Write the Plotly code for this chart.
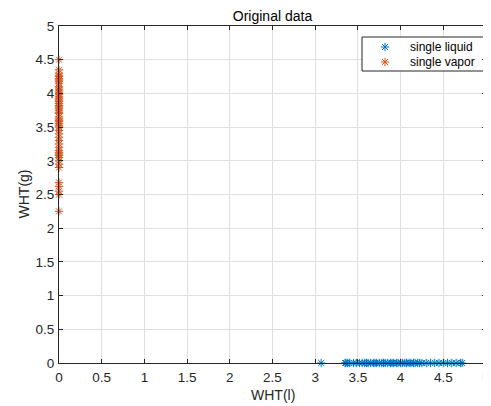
import plotly.graph_objects as go

# Data
liquid_x = [3.07, 3.35, 3.36, 3.38, 3.40, 3.45, 3.48, 3.52, 3.55, 3.58, 3.60, 3.62,
            3.65, 3.68, 3.70, 3.72, 3.75, 3.78, 3.80, 3.82, 3.85, 3.88, 3.90, 3.92,
            3.95, 3.97, 4.00, 4.02, 4.05, 4.07, 4.10, 4.12, 4.15, 4.17, 4.20, 4.22,
            4.25, 4.30, 4.35, 4.40, 4.45, 4.50, 4.55, 4.60, 4.65, 4.70, 4.72]
liquid_y = [0.0] * len(liquid_x)

vapor_y = [2.25, 2.50, 2.55, 2.62, 2.68, 2.90, 2.95, 3.00, 3.05, 3.08, 3.10, 3.12,
           3.15, 3.20, 3.25, 3.30, 3.35, 3.40, 3.45, 3.50, 3.52, 3.55, 3.58, 3.60,
           3.62, 3.65, 3.70, 3.72, 3.75, 3.78, 3.80, 3.82, 3.85, 3.88, 3.90, 3.92,
           3.95, 3.98, 4.00, 4.02, 4.05, 4.08, 4.10, 4.15, 4.18, 4.20, 4.22, 4.25,
           4.27, 4.30, 4.35, 4.50]
vapor_x = [0.0] * len(vapor_y)

tick_vals = [0, 0.5, 1, 1.5, 2, 2.5, 3, 3.5, 4, 4.5, 5]
tick_text = ["0", "0.5", "1", "1.5", "2", "2.5", "3", "3.5", "4", "4.5", "5"]

series_names = ["single liquid", "single vapor"]
series_colors = ["#0072BD", "#D95319"]

axis_col = "#262626"
font = "Liberation Sans, Arial, sans-serif"

# The page body adds an 8px offset; the figure is sized to fit the window.
W, H = 483, 398
ML, MR, MT, MB = 51, 5, 18, 43
PW, PH = W - ML - MR, H - MT - MB

fig = go.Figure()
marker_common = dict(symbol="asterisk-open", size=7)
fig.add_trace(go.Scatter(
    x=liquid_x, y=liquid_y, mode="markers", name=series_names[0],
    marker=dict(**marker_common, color=series_colors[0],
                line=dict(color=series_colors[0], width=1)),
    cliponaxis=False, showlegend=False))
fig.add_trace(go.Scatter(
    x=vapor_x, y=vapor_y, mode="markers", name=series_names[1],
    marker=dict(**marker_common, color=series_colors[1],
                line=dict(color=series_colors[1], width=1)),
    cliponaxis=False, showlegend=False))

# Legend drawn in an overlay axis spanning the plot area (0..1 fractions)
leg_left, leg_right = 303 / PW, 1.0
leg_top, leg_bottom = 1 - 11 / PH, 1 - 45 / PH
leg_mark_x = 326 / PW
leg_text_x = 349 / PW
leg_rows = [1 - 21 / PH, 1 - 36 / PH]

fig.add_trace(go.Scatter(
    x=[leg_left, leg_right, leg_right, leg_left, leg_left],
    y=[leg_bottom, leg_bottom, leg_top, leg_top, leg_bottom],
    xaxis="x2", yaxis="y2", mode="lines", fill="toself", fillcolor="white",
    line=dict(color=axis_col, width=1), showlegend=False, hoverinfo="skip",
    cliponaxis=False))

for i, (nm, col) in enumerate(zip(series_names, series_colors)):
    fig.add_trace(go.Scatter(
        x=[leg_mark_x], y=[leg_rows[i]], xaxis="x2", yaxis="y2",
        mode="markers", showlegend=False, hoverinfo="skip",
        marker=dict(**marker_common, color=col, line=dict(color=col, width=1)),
        cliponaxis=False))
    fig.add_annotation(x=leg_text_x, y=leg_rows[i], xref="x2", yref="y2",
                       text=nm, showarrow=False, xanchor="left", yanchor="middle",
                       font=dict(family=font, size=12, color="black"))

axis_common = dict(
    range=[0, 5], tickvals=tick_vals, ticktext=tick_text,
    showline=True, linecolor=axis_col, linewidth=1, mirror="ticks",
    ticks="inside", ticklen=4, tickcolor=axis_col,
    showgrid=True, gridcolor="#dfdfdf", gridwidth=1,
    zeroline=False, automargin=False,
    tickfont=dict(family=font, size=13.5, color=axis_col),
)

fig.update_layout(
    width=W, height=H,
    margin=dict(l=ML, r=MR, t=MT, b=MB),
    paper_bgcolor="white", plot_bgcolor="white",
    title=dict(text="Original data", xref="paper", x=0.5, xanchor="center",
               yref="container", y=1 - 8.5 / H, yanchor="middle",
               font=dict(family=font, size=14, color="black")),
    xaxis=dict(**axis_common, ticklabelstandoff=2),
    yaxis=dict(**axis_common, ticklabelstandoff=1),
    xaxis2=dict(overlaying="x", range=[0, 1], visible=False, fixedrange=True),
    yaxis2=dict(overlaying="y", range=[0, 1], visible=False, fixedrange=True),
    showlegend=False,
)

# Axis titles
fig.add_annotation(x=0.5, y=0, xref="paper", yref="paper", yshift=-32,
                   text="WHT(l)", showarrow=False, xanchor="center", yanchor="middle",
                   font=dict(family=font, size=14, color=axis_col))
fig.add_annotation(x=0, y=0.5, xref="paper", yref="paper", xshift=-36,
                   text="WHT(g)", showarrow=False, textangle=-90,
                   xanchor="center", yanchor="middle",
                   font=dict(family=font, size=14, color=axis_col))

fig.write_html("out.html")
